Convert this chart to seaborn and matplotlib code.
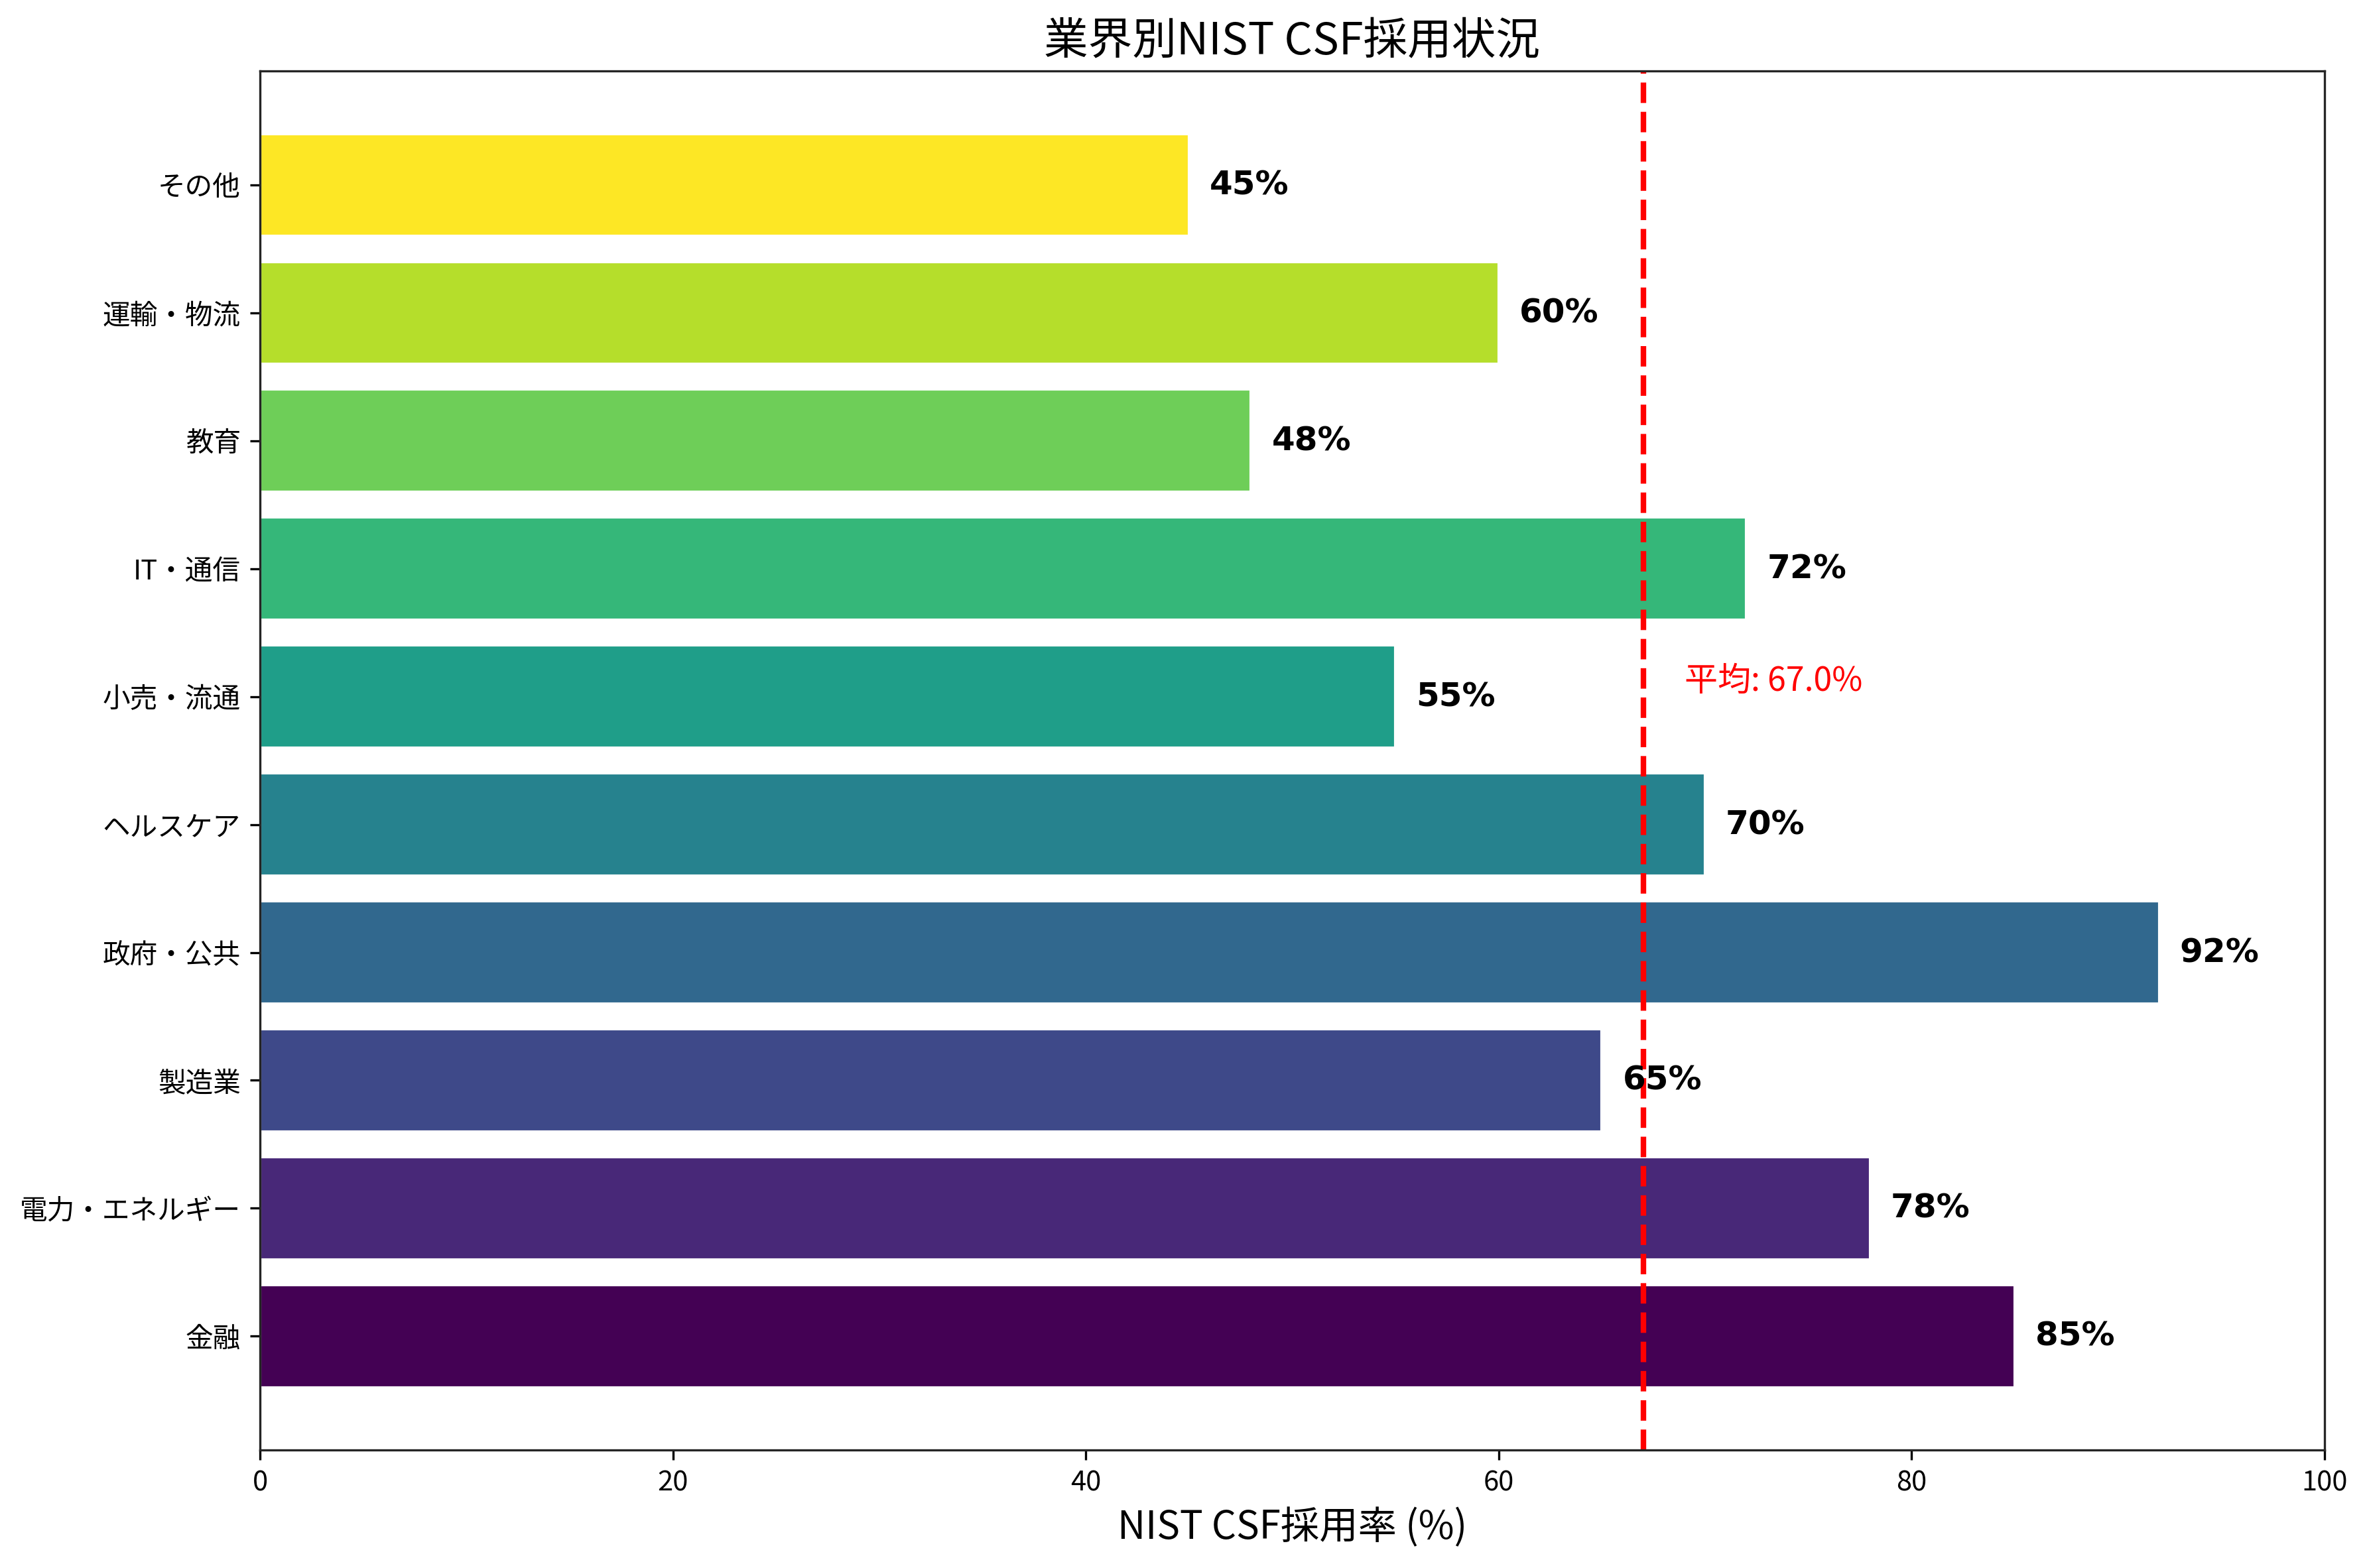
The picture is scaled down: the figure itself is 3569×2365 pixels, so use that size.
import matplotlib
matplotlib.use("Agg")
import matplotlib.pyplot as plt
import seaborn as sns
import pandas as pd
import numpy as np

industries = ['金融', '電力・エネルギー', '製造業', '政府・公共', 'ヘルスケア',
              '小売・流通', 'IT・通信', '教育', '運輸・物流', 'その他']
adoption = [85, 78, 65, 92, 70, 55, 72, 48, 60, 45]

sns.set_style('ticks')
plt.rcParams['font.family'] = ['Noto Sans CJK JP', 'DejaVu Sans']

df = pd.DataFrame({'industry': industries, 'rate': adoption})
order = industries[::-1]
colors = plt.cm.viridis(np.linspace(0, 1, len(industries)))
palette = dict(zip(industries, colors))

fig, ax = plt.subplots(figsize=(12, 8))
sns.barplot(data=df, y='industry', x='rate', order=order, hue='industry',
            palette=palette, orient='h', width=0.8, saturation=1, ax=ax, legend=False)

for i, name in enumerate(order):
    v = adoption[industries.index(name)]
    ax.text(v + 1, i, f'{v}%', va='center', ha='left', fontsize=12, color='black',
            fontweight='bold', family=['DejaVu Sans'])

mean = np.mean(adoption)
ax.axvline(mean, color='red', linestyle='--', linewidth=2)
ax.text(mean + 2, 3.95, f'平均: {mean:.1f}%', color='red', fontsize=12)

ax.set_xlim(0, 100)
ax.set_ylim(len(industries) - 1 + 0.89, -0.89)
ax.tick_params(colors='black')
ax.set_xlabel('NIST CSF採用率 (%)', fontsize=14, color='black')
ax.set_ylabel('')
ax.set_title('業界別NIST CSF採用状況', fontsize=16, color='black')

plt.tight_layout()
plt.savefig('out.png', dpi=300, bbox_inches='tight')
